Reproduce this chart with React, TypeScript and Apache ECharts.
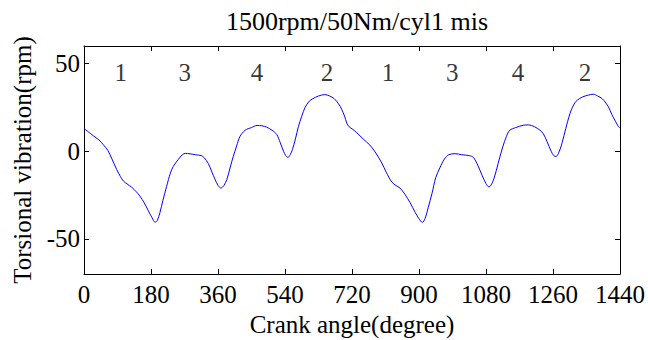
import React, { useEffect, useRef } from "react";
import * as echarts from "echarts";

const angles = [
  0, 12, 25, 40, 52, 64, 74, 88, 98, 106, 118, 128, 140, 150, 162, 173, 183, 191, 197, 204,
  212, 222, 232, 240, 253, 264, 272, 285, 300, 315, 322, 334, 344, 352, 360, 368, 376, 384, 393, 401,
  410, 419, 433, 450, 465, 478, 490, 505, 518, 527, 536, 542, 548, 554, 560, 568, 576, 585, 594, 605,
  615, 630, 647, 660, 672, 684, 692, 700, 706, 712, 722, 733, 750, 768, 784, 800, 812, 827, 838, 849,
  862, 876, 890, 900, 909, 916, 925, 935, 945, 956, 968, 980, 997, 1015, 1035, 1046, 1058, 1070, 1080, 1088,
  1097, 1105, 1115, 1125, 1135, 1144, 1160, 1180, 1194, 1210, 1225, 1234, 1244, 1255, 1262, 1268, 1274, 1282, 1292, 1302,
  1310, 1322, 1340, 1355, 1368, 1380, 1392, 1402, 1409, 1418, 1428, 1436, 1440,
];
const vibration = [
  13, 11, 8.8, 6.5, 3.7, 0.5, -3.9, -10.5, -14.5, -17, -19, -20.5, -23, -25.5, -29.5, -34, -38, -40.5, -39.5, -35,
  -28, -20, -12.5, -8.6, -4.8, -2, -1.2, -1.5, -2, -2.5, -3.5, -7, -12, -16, -19.5, -21, -19.5, -16, -9, -3,
  3, 8.4, 12, 13.5, 14.7, 14.5, 13.8, 12, 9.5, 5, 0, -2.5, -3.5, -2, 1, 7, 14, 20, 25, 28.5,
  30, 31.5, 32.3, 31.5, 30, 27, 24, 20, 16, 14, 12.5, 10.5, 7, 3.5, -1, -6.7, -12, -17.6, -19.5, -21,
  -24.5, -29.3, -35, -38.5, -40.6, -38.5, -32, -24, -15, -9.5, -4.5, -2, -1.4, -2, -2.5, -3.5, -8, -14, -18.5, -20.4,
  -18, -13, -5, 2.5, 8.5, 12, 13.5, 14.8, 15, 14, 12, 10, 5.5, 0, -2.5, -3, -1.5, 3, 11, 19,
  24, 28.5, 31, 32, 32.5, 31.5, 30, 27.5, 25.3, 21, 17, 14, 13.3,
];

const cylinderLabels = ["1", "3", "4", "2", "1", "3", "4", "2"];
const cylinderAngles = [99, 271, 465, 653, 817, 989, 1166, 1346];
const cylinderLabelLevel = 45;

const xTicks = [0, 180, 360, 540, 720, 900, 1080, 1260, 1440];
const yTicks = [-50, 0, 50];

const titleText = "1500rpm/50Nm/cyl1 mis";
const xName = "Crank angle(degree)";
const yName = "Torsional vibration(rpm)";

const FONT = "Liberation Serif";
const FS = 25;

export default function App() {
  const ref = useRef<HTMLDivElement>(null);
  useEffect(() => {
    document.body.style.margin = "0";
    if (!ref.current) return;
    const chart = echarts.init(ref.current, null, { renderer: "svg" });
    const lineData = angles.map((a, i) => [a, vibration[i]]);
    const labelData = cylinderAngles.map((a, i) => ({
      value: [a, cylinderLabelLevel],
      label: { formatter: cylinderLabels[i] },
    }));
    const baseX = {
      type: "value",
      min: 0,
      max: 1440,
      interval: 180,
      splitLine: { show: false },
      axisLine: { show: true, onZero: false, lineStyle: { color: "#000", width: 1 } },
      axisTick: { show: true, inside: true, length: 5, lineStyle: { color: "#000" } },
    };
    const baseY = {
      type: "value",
      min: -70,
      max: 60,
      splitLine: { show: false },
      axisLine: { show: true, onZero: false, lineStyle: { color: "#000", width: 1 } },
      axisTick: {
        show: true,
        inside: true,
        length: 5,
        customValues: yTicks,
        lineStyle: { color: "#000" },
      },
    };
    chart.setOption({
      animation: false,
      backgroundColor: "#fff",
      title: {
        text: titleText,
        left: 352,
        textAlign: "center",
        top: 3,
        textStyle: { fontFamily: FONT, fontSize: 26, fontWeight: "normal", color: "#000" },
      },
      grid: {
        left: 84,
        right: 28,
        top: 46,
        bottom: 66,
        containLabel: false,
        outerBoundsMode: "none",
      },
      xAxis: [
        {
          ...baseX,
          position: "bottom",
          name: xName,
          nameLocation: "middle",
          nameGap: 22,
          nameTextStyle: { fontFamily: FONT, fontSize: FS, color: "#000" },
          axisLabel: {
            show: true,
            fontFamily: FONT,
            fontSize: FS,
            color: "#000",
            margin: 8,
            customValues: xTicks,
            formatter: (v: number) => String(v),
          },
        },
        { ...baseX, position: "top", axisLabel: { show: false } },
      ],
      yAxis: [
        {
          ...baseY,
          position: "left",
          name: yName,
          nameLocation: "middle",
          nameGap: 49,
          nameTextStyle: { fontFamily: FONT, fontSize: FS, color: "#000" },
          axisLabel: {
            show: true,
            fontFamily: FONT,
            fontSize: FS,
            color: "#000",
            margin: 4,
            customValues: yTicks,
          },
        },
        { ...baseY, position: "right", axisLabel: { show: false } },
      ],
      series: [
        {
          type: "line",
          data: lineData,
          showSymbol: false,
          smooth: 0.3,
          lineStyle: { color: "#0000ff", width: 1 },
          xAxisIndex: 0,
          yAxisIndex: 0,
        },
        {
          type: "scatter",
          data: labelData,
          symbolSize: 0,
          xAxisIndex: 0,
          yAxisIndex: 0,
          label: {
            show: true,
            position: "inside",
            fontFamily: FONT,
            fontSize: FS,
            color: "#000",
          },
        },
      ],
    });
    return () => chart.dispose();
  }, []);
  return <div ref={ref} style={{ width: 648, height: 340 }} />;
}
